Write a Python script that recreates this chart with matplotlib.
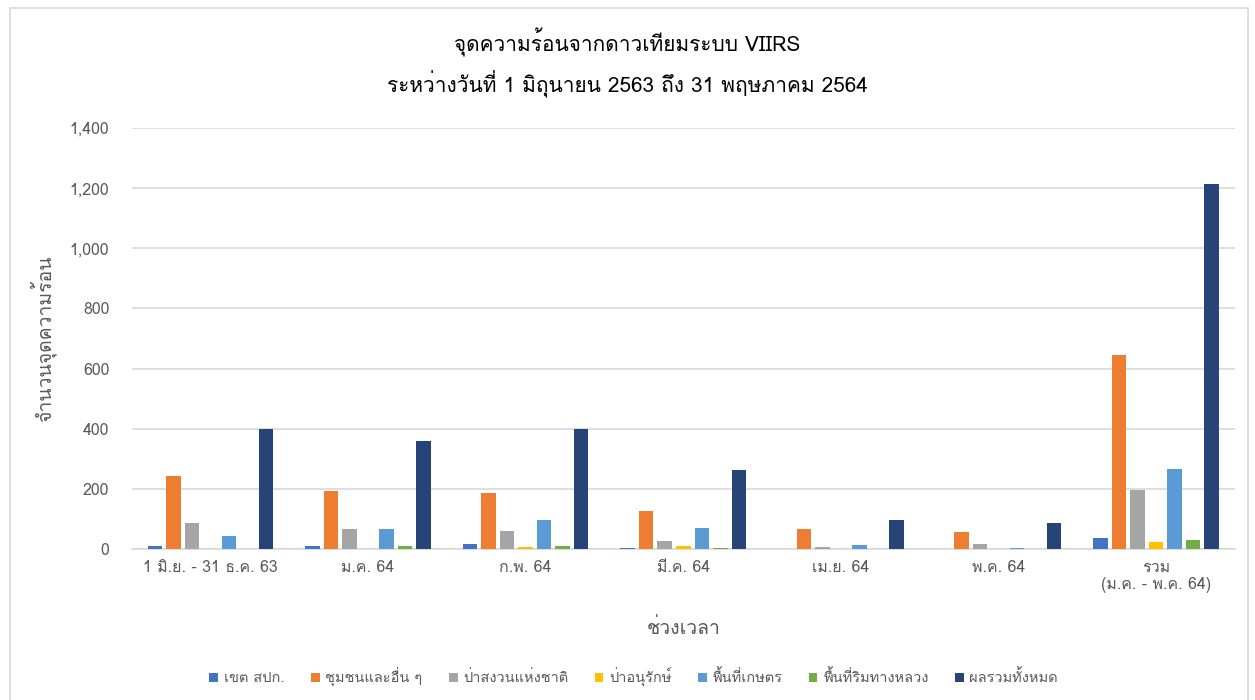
import numpy as np
import matplotlib
matplotlib.use("Agg")
import matplotlib.pyplot as plt
from matplotlib.patches import Rectangle

plt.rcParams['font.family'] = ['Loma', 'DejaVu Sans']

periods = ["1 มิ.ย. - 31 ธ.ค. 63", "ม.ค. 64", "ก.พ. 64", "มี.ค. 64",
           "เม.ย. 64", "พ.ค. 64", "รวม\n(ม.ค. - พ.ค. 64)"]
series_names = ["เขต สปก.", "ชุมชนและอื่น ๆ", "ป่าสงวนแห่งชาติ", "ป่าอนุรักษ์",
                "พื้นที่เกษตร", "พื้นที่ริมทางหลวง", "ผลรวมทั้งหมด"]
alro = [9, 10, 18, 3, 0, 0, 37]
community = [244, 193, 185, 128, 65, 58, 645]
reserve_forest = [88, 68, 60, 25, 8, 18, 197]
conservation = [0, 0, 5, 11, 0, 0, 24]
farmland = [42, 65, 97, 71, 14, 3, 267]
highway = [0, 10, 11, 3, 0, 0, 31]
total = [399, 360, 399, 263, 97, 87, 1213]
colors = ["#4472C4", "#ED7D31", "#A5A5A5", "#FFC000", "#5B9BD5", "#70AD47", "#264478"]

data = [alro, community, reserve_forest, conservation, farmland, highway, total]

fig = plt.figure(figsize=(12.55, 7), dpi=100)
ax = fig.add_axes([131.5 / 1255, 1 - 549 / 700, (1235 - 131.5) / 1255, (549 - 128) / 700])

x = np.arange(len(periods))
step = 0.1175
width = 0.092
for i, (vals, name, c) in enumerate(zip(data, series_names, colors)):
    ax.bar(x + (i - 3) * step, vals, width, color=c, label=name, zorder=3)

ax.set_xlim(-0.5, len(periods) - 0.5)
ax.set_ylim(0, 1400)
ax.set_yticks(np.arange(0, 1401, 200))
ax.yaxis.set_major_formatter(matplotlib.ticker.FuncFormatter(lambda v, p: f"{int(v):,}"))
ax.set_xticks(x)
ax.set_xticklabels(periods, linespacing=1.05)
ax.tick_params(axis='both', length=0, labelsize=11.5, colors="#595959")
ax.tick_params(axis='y', pad=16)
ax.tick_params(axis='x', pad=8)
ax.grid(axis='y', color="#D9D9D9", linewidth=1.2, zorder=0)
for s in ["top", "right", "left"]:
    ax.spines[s].set_visible(False)
ax.spines["bottom"].set_color("#D9D9D9")
ax.spines["bottom"].set_linewidth(1.2)

ax.set_xlabel("ช่วงเวลา", fontsize=14, color="#595959", labelpad=18)
ax.set_ylabel("จำนวนจุดความร้อน", fontsize=14, color="#595959", labelpad=10)

fig.text(0.5, 1 - 42 / 700, "จุดความร้อนจากดาวเทียมระบบ VIIRS", ha="center", va="center",
         fontsize=15, color="#000000")
fig.text(0.5, 1 - 84 / 700, "ระหว่างวันที่ 1 มิถุนายน 2563 ถึง 31 พฤษภาคม 2564", ha="center", va="center",
         fontsize=15, color="#000000")

fig.legend(loc="center", bbox_to_anchor=(0.505, 1 - 677 / 700), ncol=7, frameon=False,
           fontsize=10.5, handlelength=0.6, handleheight=0.6, handletextpad=0.4,
           columnspacing=1.8, labelcolor="#595959")

fig.patches.append(Rectangle((10 / 1255, -0.01), 1238 / 1255, 1 - 8 / 700 + 0.01,
                             transform=fig.transFigure, fill=False,
                             edgecolor="#D9D9D9", linewidth=1.2))

fig.savefig("out.png", dpi=100)
